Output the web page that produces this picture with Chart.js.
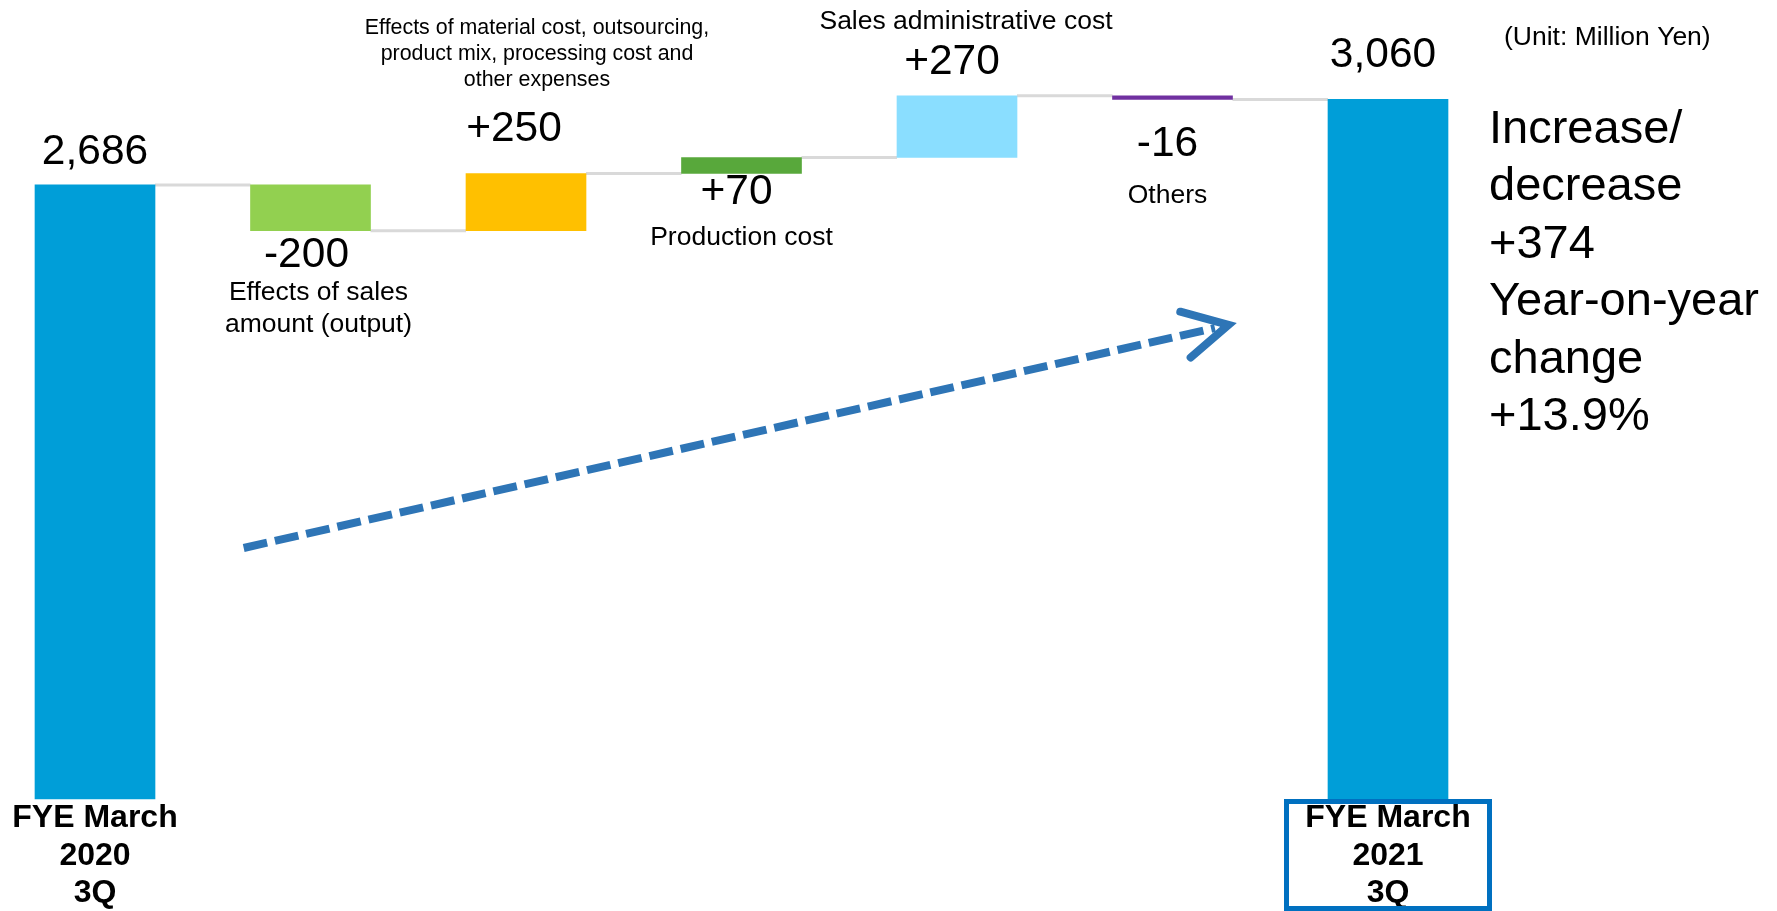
<!DOCTYPE html>
<html>
<head>
<meta charset="utf-8">
<title>Operating income bridge</title>
<script src="https://cdn.jsdelivr.net/npm/chart.js@4/dist/chart.umd.min.js"></script>
<style>
  html, body { margin: 0; padding: 0; background: #fff; }
  canvas { display: block; }
</style>
</head>
<body>
<canvas id="bridgeChart" width="1777" height="911"></canvas>
<script>
// values in million yen
const categories = [
  ['FYE March', '2020', '3Q'],
  ['Effects of sales', 'amount (output)'],
  ['Effects of material cost, outsourcing,', 'product mix, processing cost and', 'other expenses'],
  ['Production cost'],
  ['Sales administrative cost'],
  ['Others'],
  ['FYE March', '2021', '3Q']
];
const startTotal = 2686;
const changes = [-200, 250, 70, 270, -16];
const barColors = ['#009ED8', '#92D050', '#FFC000', '#58A83B', '#8ADEFF', '#7030A0', '#009ED8'];
const unitLabel = '(Unit: Million Yen)';

// running totals -> floating bars [from, to]
const endTotal = changes.reduce((a, b) => a + b, startTotal);
const bars = [[0, startTotal]];
let level = startTotal;
changes.forEach(c => { bars.push([level, level + c]); level += c; });
bars.push([0, endTotal]);

const fmt = n => n.toLocaleString('en-US');
const valueTexts = [fmt(startTotal)]
  .concat(changes.map(c => (c > 0 ? '+' : '') + fmt(c)))
  .concat([fmt(endTotal)]);

const diff = endTotal - startTotal;
const sideLines = ['Increase/', 'decrease', '+' + fmt(diff), 'Year-on-year', 'change',
  '+' + (diff / startTotal * 100).toFixed(1) + '%'];

// where each value / caption sits relative to its bar
const labelPos = [
  { edge: 'top', dy: -21, dx: 0 },
  { edge: 'bottom', dy: 36, dx: -4, cap: 'bottom', cdy: 69, cdx: 8, size: 26.5, lh: 32 },
  { edge: 'top', dy: -33, dx: -12, cap: 'top', cdy: -140, cdx: 11, size: 21.4, lh: 26 },
  { edge: 'bottom', dy: 30, dx: -5, cap: 'bottom', cdy: 71, cdx: 0, size: 26.5, lh: 32 },
  { edge: 'top', dy: -22, dx: -5, cap: 'top', cdy: -67, cdx: 9, size: 26.5, lh: 32 },
  { edge: 'bottom', dy: 57, dx: -5, cap: 'bottom', cdy: 104, cdx: -5, size: 26.5, lh: 32 },
  { edge: 'top', dy: -32, dx: -5 }
];

const FONT = '"Liberation Sans", Arial, sans-serif';

const bridgeText = {
  id: 'bridgeText',
  beforeDatasetsDraw(chart) {
    const ctx = chart.ctx;
    const y = chart.scales.y;
    const els = chart.getDatasetMeta(0).data;
    ctx.save();
    ctx.strokeStyle = '#D9D9D9';
    ctx.lineWidth = 3;
    for (let i = 0; i < els.length - 1; i++) {
      const lv = y.getPixelForValue(bars[i][1]);
      ctx.beginPath();
      ctx.moveTo(els[i].x + els[i].width / 2, lv);
      ctx.lineTo(els[i + 1].x - els[i + 1].width / 2, lv);
      ctx.stroke();
    }
    ctx.restore();
  },
  afterDatasetsDraw(chart) {
    const ctx = chart.ctx;
    const area = chart.chartArea;
    const xs = chart.scales.x, ys = chart.scales.y;
    const els = chart.getDatasetMeta(0).data;
    ctx.save();
    ctx.fillStyle = '#000';
    ctx.textAlign = 'center';
    ctx.textBaseline = 'alphabetic';

    els.forEach((el, i) => {
      const top = Math.min(el.y, el.base);
      const bottom = Math.max(el.y, el.base);
      const p = labelPos[i];
      ctx.font = '42.5px ' + FONT;
      ctx.fillText(valueTexts[i], el.x + p.dx, (p.edge === 'top' ? top : bottom) + p.dy);
      if (p.cap) {
        ctx.font = p.size + 'px ' + FONT;
        const y0 = (p.cap === 'top' ? top : bottom) + p.cdy;
        categories[i].forEach((line, k) => ctx.fillText(line, el.x + p.cdx, y0 + k * p.lh));
      }
    });

    // period labels under the two totals
    ctx.font = 'bold 32px ' + FONT;
    [0, els.length - 1].forEach(i => {
      categories[i].forEach((line, k) => ctx.fillText(line, els[i].x, area.bottom + 28 + k * 37.5));
    });
    const last = els[els.length - 1];
    ctx.strokeStyle = '#0070C0';
    ctx.lineWidth = 5;
    ctx.strokeRect(last.x - 101.5, area.bottom + 2.5, 203, 107);

    // unit note and change summary
    ctx.textAlign = 'left';
    ctx.font = '26.5px ' + FONT;
    ctx.fillText(unitLabel, area.right + 116, 45);
    ctx.font = '47px ' + FONT;
    sideLines.forEach((line, k) => ctx.fillText(line, area.right + 101, 143 + k * 57.4));

    // dashed trend arrow
    const x0 = xs.getPixelForValue(0.69), y0 = ys.getPixelForValue(1098);
    const x1 = xs.getPixelForValue(5.26), y1 = ys.getPixelForValue(2074);
    const ang = Math.atan2(y1 - y0, x1 - x0);
    ctx.strokeStyle = '#2E75B6';
    ctx.lineWidth = 8;
    ctx.setLineDash([24, 8]);
    ctx.beginPath();
    ctx.moveTo(x0, y0);
    ctx.lineTo(x1 - 14 * Math.cos(ang), y1 - 14 * Math.sin(ang));
    ctx.stroke();
    ctx.setLineDash([]);
    ctx.lineCap = 'round';
    ctx.lineJoin = 'miter';
    const arm = 50, spread = 28 * Math.PI / 180;
    ctx.beginPath();
    ctx.moveTo(x1 - arm * Math.cos(ang - spread), y1 - arm * Math.sin(ang - spread));
    ctx.lineTo(x1, y1);
    ctx.lineTo(x1 - arm * Math.cos(ang + spread), y1 - arm * Math.sin(ang + spread));
    ctx.stroke();
    ctx.restore();
  }
};

new Chart(document.getElementById('bridgeChart').getContext('2d'), {
  type: 'bar',
  data: {
    labels: categories,
    datasets: [{
      data: bars,
      backgroundColor: barColors,
      barThickness: 120,
      borderWidth: 0,
      clip: false
    }]
  },
  options: {
    responsive: false,
    animation: false,
    layout: { padding: { left: 95, right: 389, top: 0, bottom: 112 } },
    plugins: { legend: { display: false }, tooltip: { enabled: false } },
    scales: {
      x: { type: 'category', offset: false, display: false },
      y: { min: 0, max: 3495, display: false }
    }
  },
  plugins: [bridgeText]
});
</script>
</body>
</html>
